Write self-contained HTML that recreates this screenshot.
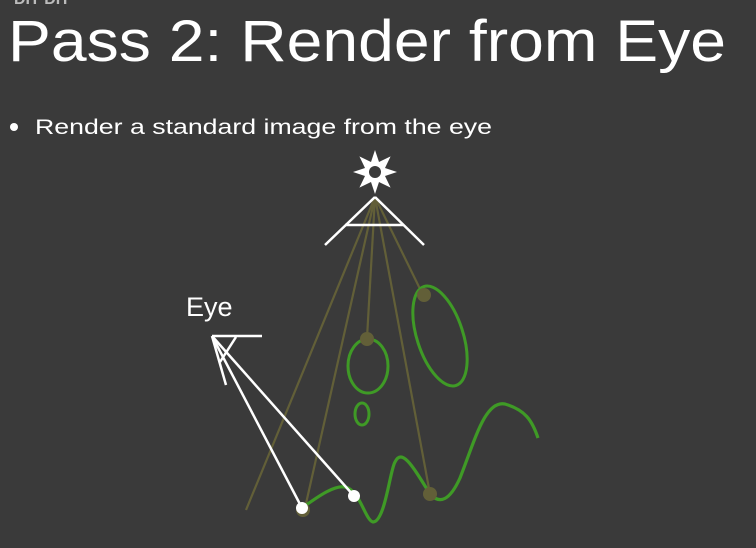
<!DOCTYPE html>
<html><head><meta charset="utf-8"><style>
html,body{margin:0;padding:0;}
body{width:756px;height:548px;background:#3a3a3a;overflow:hidden;position:relative;font-family:"Liberation Sans",sans-serif;}
</style></head><body>
<svg width="756" height="548" style="position:absolute;left:0;top:0">
<text x="14" y="4" font-size="16" font-weight="bold" fill="#bbb">DIT DIT</text>
<text x="8" y="61" font-size="58" fill="#fff" textLength="718" lengthAdjust="spacingAndGlyphs">Pass 2: Render from Eye</text>
<circle cx="14" cy="127" r="4" fill="#fff"/>
<text x="35" y="134" font-size="21" fill="#fff" textLength="457" lengthAdjust="spacingAndGlyphs">Render a standard image from the eye</text>
<g transform="translate(375,172)">
<polygon fill="#fff" points="0,-22 4,-10 15.6,-15.6 10,-4 22,0 10,4 15.6,15.6 4,10 0,22 -4,10 -15.6,15.6 -10,4 -22,0 -10,-4 -15.6,-15.6 -4,-10"/>
<circle r="6" fill="#3a3a3a"/>
</g>
<g stroke="#625f38" stroke-width="2.2" fill="none">
<line x1="375" y1="197" x2="246" y2="510"/>
<line x1="375" y1="197" x2="305" y2="508"/>
<line x1="375" y1="197" x2="367" y2="338"/>
<line x1="375" y1="197" x2="430" y2="494"/>
<line x1="375" y1="197" x2="423" y2="295"/>
</g>
<g stroke="#fff" stroke-width="2.5" fill="none">
<line x1="375" y1="197" x2="325" y2="245"/>
<line x1="375" y1="197" x2="424" y2="245"/>
<line x1="345" y1="225" x2="403" y2="225"/>
</g>
<g stroke="#3f9a26" stroke-width="3" fill="none">
<ellipse cx="368" cy="366" rx="20" ry="27"/>
<ellipse cx="362" cy="414" rx="7" ry="11"/>
<ellipse cx="440" cy="336" rx="23" ry="52" transform="rotate(-18 440 336)"/>
<path stroke-width="3.2" d="M302,508 C320,495 335,485 345,487 C360,490 365,520 373,522 C385,522 390,470 395,462 C402,448 412,465 430,494 C440,505 450,500 460,478 C475,440 485,400 505,404 C525,410 532,420 538,438"/>
</g>
<g fill="#625f38">
<circle cx="367" cy="339" r="7"/>
<circle cx="424" cy="295" r="7"/>
<circle cx="430" cy="494" r="7"/>
<circle cx="303" cy="510" r="7"/>
</g>
<text x="186" y="316" font-size="27" fill="#fff">Eye</text>
<g stroke="#fff" stroke-width="2.5" fill="none">
<line x1="212" y1="336" x2="262" y2="336"/>
<line x1="236" y1="337" x2="220" y2="362"/>
<line x1="212" y1="336" x2="226" y2="385"/>
<line x1="212" y1="336" x2="302" y2="508"/>
<line x1="212" y1="336" x2="354" y2="496"/>
</g>
<circle cx="302" cy="508" r="6" fill="#fff"/>
<circle cx="354" cy="496" r="6" fill="#fff"/>
</svg>
</body></html>
